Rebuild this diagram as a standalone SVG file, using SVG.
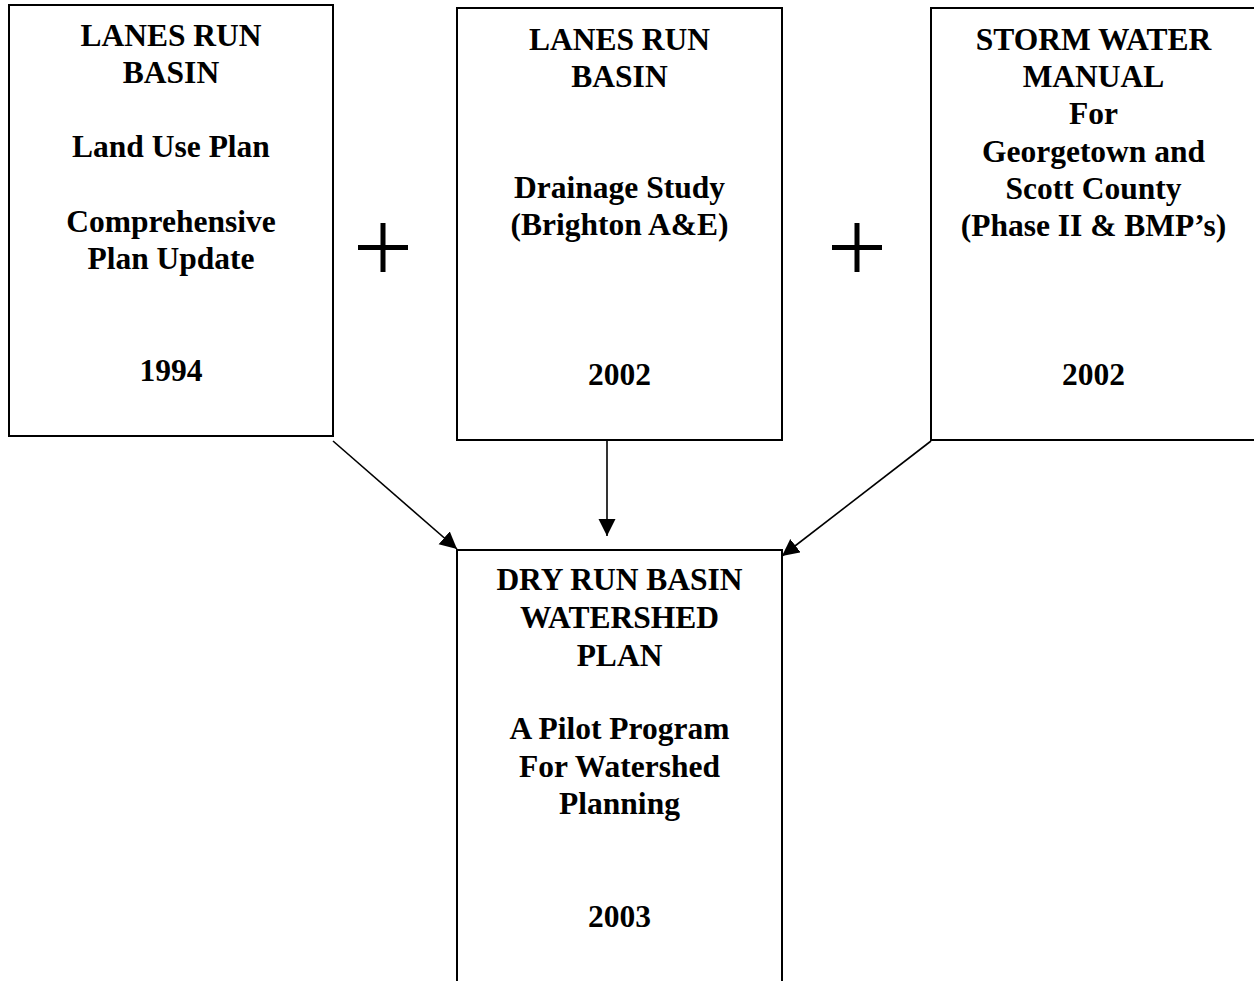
<svg xmlns="http://www.w3.org/2000/svg" width="1254" height="981" viewBox="0 0 1254 981">
<style>
.box{fill:#fff;stroke:#000;stroke-width:2}
.t{font-family:"Liberation Serif","Times New Roman",serif;font-weight:bold;font-size:31.5px;text-anchor:middle;fill:#000}
.conn{stroke:#000;stroke-width:1.6;fill:none}
.plus{stroke:#000;stroke-width:5;fill:none}
</style>
<defs>
<marker id="ah" markerWidth="18" markerHeight="18" refX="17" refY="8.5" orient="auto" markerUnits="userSpaceOnUse">
<path d="M0,0 L17,8.5 L0,17 Z" fill="#000"/>
</marker>
</defs>
<rect width="1254" height="981" fill="#fff"/>
<g id="node-landuse">
<rect class="box" x="9" y="5" width="324" height="431"/>
<text class="t" x="171" y="45.7">LANES RUN</text>
<text class="t" x="171" y="83.3">BASIN</text>
<text class="t" x="171" y="157">Land Use Plan</text>
<text class="t" x="171" y="232">Comprehensive</text>
<text class="t" x="171" y="268.5">Plan Update</text>
<text class="t" x="171" y="381">1994</text>
</g>
<g id="node-drainage">
<rect class="box" x="457" y="8" width="325" height="432"/>
<text class="t" x="619.5" y="50">LANES RUN</text>
<text class="t" x="619.5" y="86.7">BASIN</text>
<text class="t" x="619.5" y="198">Drainage Study</text>
<text class="t" x="619.5" y="235">(Brighton A&amp;E)</text>
<text class="t" x="619.5" y="385">2002</text>
</g>
<g id="node-stormwater">
<rect class="box" x="931" y="8" width="330" height="432"/>
<text class="t" x="1093.5" y="50">STORM WATER</text>
<text class="t" x="1093.5" y="87">MANUAL</text>
<text class="t" x="1093.5" y="124">For</text>
<text class="t" x="1093.5" y="161.7">Georgetown and</text>
<text class="t" x="1093.5" y="199">Scott County</text>
<text class="t" x="1093.5" y="236">(Phase II &amp; BMP’s)</text>
<text class="t" x="1093.5" y="385">2002</text>
</g>
<g id="node-dryrun">
<rect class="box" x="457" y="550" width="325" height="450"/>
<text class="t" x="619.5" y="590">DRY RUN BASIN</text>
<text class="t" x="619.5" y="628">WATERSHED</text>
<text class="t" x="619.5" y="666">PLAN</text>
<text class="t" x="619.5" y="739">A Pilot Program</text>
<text class="t" x="619.5" y="777">For Watershed</text>
<text class="t" x="619.5" y="814">Planning</text>
<text class="t" x="619.5" y="927">2003</text>
</g>
<g id="plus-1">
<path class="plus" d="M358,247.5 H408 M383,223 V272"/>
</g>
<g id="plus-2">
<path class="plus" d="M832,247.5 H882 M857,223 V272"/>
</g>
<g id="connectors">
<line class="conn" x1="333" y1="441" x2="457" y2="549" marker-end="url(#ah)"/>
<line class="conn" x1="607" y1="441" x2="607" y2="536" marker-end="url(#ah)"/>
<line class="conn" x1="931" y1="441" x2="782" y2="556" marker-end="url(#ah)"/>
</g>
</svg>
